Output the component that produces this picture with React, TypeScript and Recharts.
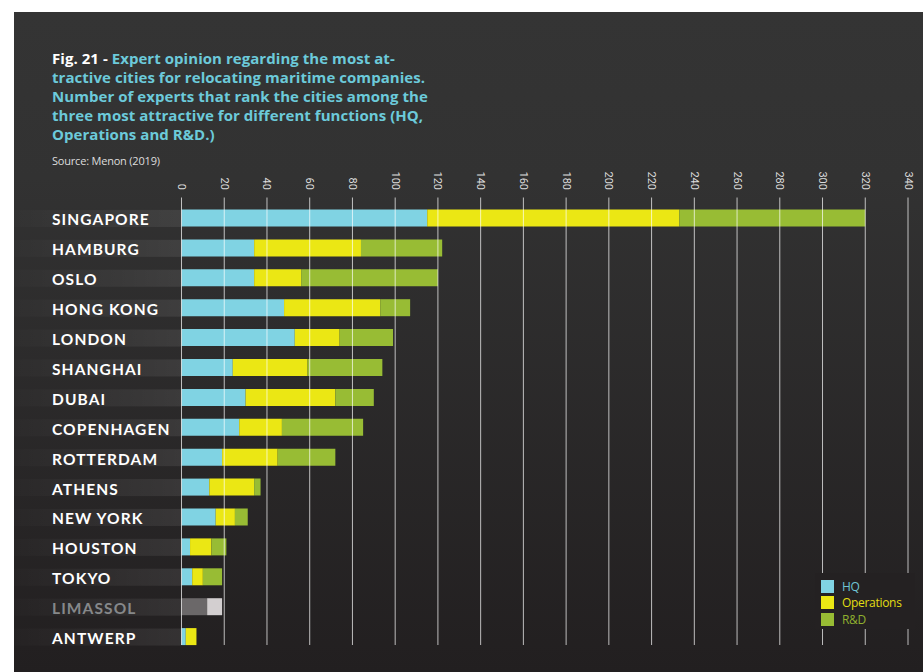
import React from "react";
import { BarChart, Bar, XAxis, YAxis, Legend, ReferenceLine, Cell } from "recharts";

const cities = [
    "SINGAPORE",
    "HAMBURG",
    "OSLO",
    "HONG KONG",
    "LONDON",
    "SHANGHAI",
    "DUBAI",
    "COPENHAGEN",
    "ROTTERDAM",
    "ATHENS",
    "NEW YORK",
    "HOUSTON",
    "TOKYO",
    "LIMASSOL",
    "ANTWERP",
];
const hq = [115, 34, 34, 48, 53, 24, 30, 27, 19, 13, 16, 4, 5, 12, 2];
const operations = [118, 50, 22, 45, 21, 35, 42, 20, 26, 21, 9, 10, 5, 7, 5];
const rnd = [87, 38, 64, 14, 25, 35, 18, 38, 27, 3, 6, 7, 9, 0, 0];
const ticks = [0, 20, 40, 60, 80, 100, 120, 140, 160, 180, 200, 220, 240, 260, 280, 300, 320, 340];
const greyedCity = "LIMASSOL";

const HQ_COLOR = "#80d3e3";
const OPS_COLOR = "#ebe714";
const RND_COLOR = "#98bc34";
const LEGEND_TEXT = { hq: "#6fc4d3", ops: "#e2de12", rd: "#8fb02f" };

const data = cities.map((city, i) => ({ city, hq: hq[i], ops: operations[i], rd: rnd[i] }));

const PANEL_LEFT = 14;
const PLOT_LEFT = 181.5;

const CityTick = (props: any) => {
    const { y, payload } = props;
    const grey = payload.value === greyedCity;
    return (
        <g>
            <rect x={PANEL_LEFT} y={y - 8.5} width={PLOT_LEFT - PANEL_LEFT} height={17} fill="url(#bandGrad)" />
            <text
                x={52}
                y={y + 1}
                dominantBaseline="central"
                fill={grey ? "#86888a" : "#ffffff"}
                fontFamily="Lato, sans-serif"
                fontWeight={700}
                fontSize={15.5}
                letterSpacing={1.1}
            >
                {payload.value}
            </text>
        </g>
    );
};

const ValueTick = (props: any) => {
    const { x, payload } = props;
    return (
        <text
            x={x}
            y={190}
            transform={`rotate(90, ${x}, 190)`}
            textAnchor="end"
            dominantBaseline="central"
            fill="#dcdcdc"
            fontFamily="Roboto, sans-serif"
            fontSize={11}
        >
            {payload.value}
        </text>
    );
};

const GridLine = (props: any) => {
    const { x1, y1, y2 } = props;
    return <line x1={x1} x2={x1} y1={y1 - 6} y2={y2 - 7} stroke="#ffffff" strokeOpacity={0.7} strokeWidth={1} />;
};

const LegendBox = () => {
    const items = [
        { label: "HQ", color: HQ_COLOR, text: LEGEND_TEXT.hq },
        { label: "Operations", color: OPS_COLOR, text: LEGEND_TEXT.ops },
        { label: "R&D", color: RND_COLOR, text: LEGEND_TEXT.rd },
    ];
    return (
        <div style={{ background: "#242122", width: 100, height: 56, paddingTop: 5, boxSizing: "border-box" }}>
            {items.map((e, i) => (
                <div key={i} style={{ display: "flex", alignItems: "center", height: 16.5, marginLeft: 6 }}>
                    <span style={{ width: 13, height: 13, background: e.color, display: "inline-block" }} />
                    <span
                        style={{
                            marginLeft: 8,
                            color: e.text,
                            fontFamily: "'Open Sans', sans-serif",
                            fontSize: 12,
                            letterSpacing: -0.3,
                        }}
                    >
                        {e.label}
                    </span>
                </div>
            ))}
        </div>
    );
};

export default function App() {
    return (
        <div style={{ position: "absolute", left: 0, top: 0, width: 923, height: 672, background: "#ffffff", overflow: "hidden" }}>
            <div
                style={{
                    position: "absolute",
                    left: PANEL_LEFT,
                    top: 12,
                    width: 923 - PANEL_LEFT,
                    height: 660,
                    background: "linear-gradient(#343434, #323232 25%, #221f20)",
                }}
            />
            <div
                style={{
                    position: "absolute",
                    left: 52,
                    top: 49,
                    fontFamily: "'Open Sans', sans-serif",
                    fontWeight: 700,
                    fontSize: 15,
                    lineHeight: "19px",
                    letterSpacing: 0.05,
                    color: "#6ccada",
                    whiteSpace: "nowrap",
                }}
            >
                <div>
                    <span style={{ color: "#ffffff" }}>Fig. 21 - </span>Expert opinion regarding the most at-
                </div>
                <div>tractive cities for relocating maritime companies.</div>
                <div>Number of experts that rank the cities among the</div>
                <div>three most attractive for different functions (HQ,</div>
                <div>Operations and R&amp;D.)</div>
            </div>
            <div
                style={{
                    position: "absolute",
                    left: 52,
                    top: 153,
                    fontFamily: "'Open Sans', sans-serif",
                    fontSize: 11,
                    letterSpacing: -0.2,
                    color: "#dddddd",
                    whiteSpace: "nowrap",
                }}
            >
                Source: Menon (2019)
            </div>
            <div style={{ position: "absolute", left: 0, top: 0 }}>
                <BarChart
                    width={923}
                    height={672}
                    data={data}
                    layout="vertical"
                    margin={{ top: 163.5, right: 15, bottom: 20, left: 0 }}
                    barSize={17}
                >
                    <defs>
                        <linearGradient id="bandGrad" x1="0" y1="0" x2="1" y2="0">
                            <stop offset="0%" stopColor="#ffffff" stopOpacity={0.01} />
                            <stop offset="100%" stopColor="#ffffff" stopOpacity={0.08} />
                        </linearGradient>
                    </defs>
                    <XAxis
                        type="number"
                        orientation="top"
                        domain={[0, 340]}
                        ticks={ticks}
                        height={40}
                        axisLine={false}
                        tickLine={false}
                        tick={<ValueTick />}
                        interval={0}
                    />
                    <YAxis
                        type="category"
                        dataKey="city"
                        width={PLOT_LEFT}
                        axisLine={false}
                        tickLine={false}
                        tick={<CityTick />}
                        interval={0}
                    />
                    <Bar dataKey="hq" name="HQ" stackId="a" fill={HQ_COLOR} isAnimationActive={false}>
                        {data.map((d) => (
                            <Cell key={d.city} fill={d.city === greyedCity ? "#6b6869" : HQ_COLOR} />
                        ))}
                    </Bar>
                    <Bar dataKey="ops" name="Operations" stackId="a" fill={OPS_COLOR} isAnimationActive={false}>
                        {data.map((d) => (
                            <Cell key={d.city} fill={d.city === greyedCity ? "#d3cfd0" : OPS_COLOR} />
                        ))}
                    </Bar>
                    <Bar dataKey="rd" name="R&D" stackId="a" fill={RND_COLOR} isAnimationActive={false} />
                    {ticks.map((t) => (
                        <ReferenceLine key={t} x={t} shape={<GridLine />} />
                    ))}
                    <Legend
                        layout="vertical"
                        align="center"
                        verticalAlign="middle"
                        content={<LegendBox />}
                        wrapperStyle={{ position: "absolute", left: 815, top: 573, width: 100, height: 56 }}
                    />
                </BarChart>
            </div>
        </div>
    );
}
